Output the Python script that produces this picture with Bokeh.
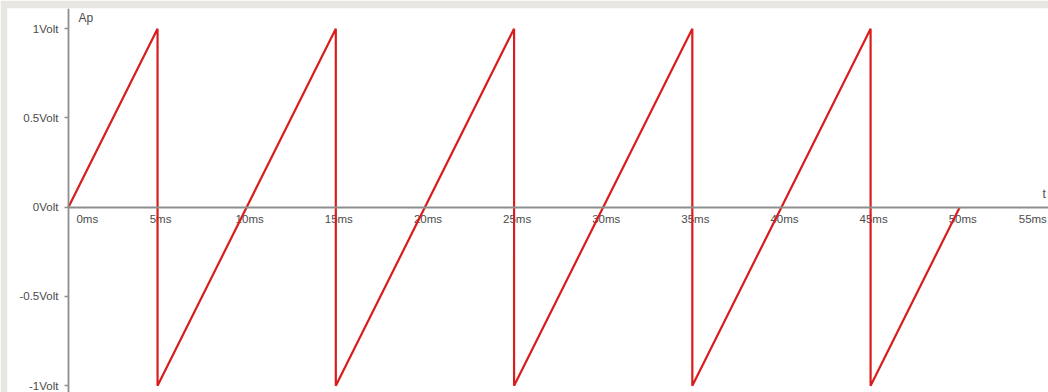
from bokeh.plotting import figure
from bokeh.models import LinearAxis, FixedTicker, Range1d, Label
from bokeh.core.properties import value
from bokeh.embed import file_html
from bokeh.resources import INLINE

# Sawtooth waveform (time in ms, amplitude in Volt)
t_ms = [0, 5, 5, 15, 15, 25, 25, 35, 35, 45, 45, 50]
volts = [0, 1, -1, 1, -1, 1, -1, 1, -1, 1, -1, 0]

x_ticks = [0, 5, 10, 15, 20, 25, 30, 35, 40, 45, 50, 55]
x_tick_labels = ["0ms", "5ms", "10ms", "15ms", "20ms", "25ms", "30ms",
                 "35ms", "40ms", "45ms", "50ms", "55ms"]
y_ticks = [-1, -0.5, 0, 0.5, 1]
y_tick_labels = ["-1Volt", "-0.5Volt", "0Volt", "0.5Volt", "1Volt"]

FONT = "Liberation Sans"
TXT = "#4a4a4a"
AX = "#8e8e8e"
PAGE = "#e8e6e0"

W, H = 1048, 392
X0, X1 = -3.417, 54.98
Y0, Y1 = -1.038, 1.113

p = figure(width=W, height=H, output_backend="svg", toolbar_location=None,
           x_axis_location=None, y_axis_location=None,
           x_range=Range1d(X0, X1), y_range=Range1d(Y0, Y1),
           min_border=0, min_border_left=7, min_border_top=8,
           outline_line_color=None, background_fill_color="white",
           border_fill_color=PAGE)
p.grid.visible = False

xa = LinearAxis(fixed_location=0, ticker=FixedTicker(ticks=x_ticks),
                bounds=(0, 60), axis_line_color=AX, axis_line_width=1.8,
                major_tick_in=0, major_tick_out=0, minor_tick_line_color=None,
                major_label_text_font_size="0px", major_label_text_alpha=0)
p.add_layout(xa, "below")

ya = LinearAxis(fixed_location=0, ticker=FixedTicker(ticks=y_ticks),
                major_label_overrides=dict(zip(y_ticks, y_tick_labels)),
                axis_line_color=AX, axis_line_width=1.8,
                major_tick_in=0, major_tick_out=4, major_tick_line_color=AX,
                major_tick_line_width=1.4, minor_tick_line_color=None,
                major_label_text_font=FONT, major_label_text_font_size="11.5px",
                major_label_text_color=TXT, major_label_standoff=6)
p.add_layout(ya, "left")

# x tick labels (GeoGebra style, just right of the tick)
mid_x = x_ticks[1:-1]
p.text(x=mid_x, y=[0] * len(mid_x), text=x_tick_labels[1:-1],
       x_offset=3, y_offset=6, text_align="center", text_baseline="top",
       text_font=value(FONT), text_font_size="11.5px", text_color=TXT)
p.text(x=x_ticks[-1:], y=[0], text=x_tick_labels[-1:],
       x_offset=-2, y_offset=6, text_align="right", text_baseline="top",
       text_font=value(FONT), text_font_size="11.5px", text_color=TXT)
p.add_layout(Label(x=x_ticks[0], y=0, text=x_tick_labels[0], x_offset=8, y_offset=-6,
                   text_baseline="top", text_font=FONT, text_font_size="11.5px",
                   text_color=TXT))

p.add_layout(Label(x=0, y=Y1, text="Ap", x_offset=10, y_offset=-2,
                   text_baseline="top", text_font=FONT, text_font_size="12px",
                   text_color=TXT))
p.add_layout(Label(x=X1, y=0, text="t", x_offset=-6, y_offset=6,
                   text_baseline="bottom", text_font=FONT, text_font_size="12px",
                   text_color=TXT))

p.line(t_ms, volts, line_color="#d91c1c", line_width=2.2)

html = file_html(p, INLINE)
open("out.html", "w").write(html)
